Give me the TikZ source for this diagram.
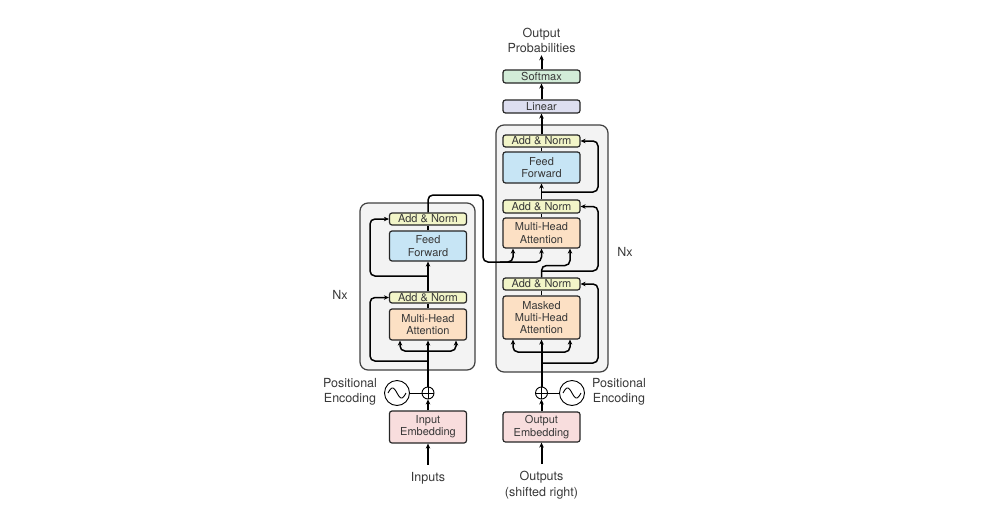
\documentclass[tikz,border=0pt]{standalone}
\usepackage{fontspec}
\setmainfont{TeX Gyre Heros}
\usetikzlibrary{arrows.meta,calc}
\definecolor{cAN}{HTML}{F2F5C8}
\definecolor{cFF}{HTML}{C7E5F5}
\definecolor{cMHA}{HTML}{FCE0C4}
\definecolor{cEmb}{HTML}{F8DDDD}
\definecolor{cSoft}{HTML}{D2ECD8}
\definecolor{cLin}{HTML}{DDDEF0}
\definecolor{cBig}{HTML}{F3F3F3}
\definecolor{cTxt}{HTML}{383838}
\begin{document}
\begin{tikzpicture}[x=1pt,y=-1pt,
 blk/.style={draw=black!85, line width=1.2pt, rounded corners=2.5pt, minimum width=77pt, inner sep=0pt, align=center, font=\fontsize{11}{12.3}\selectfont, text=cTxt},
 bigbox/.style={draw=black!75, line width=1.2pt, fill=cBig, rounded corners=8pt, inner sep=0pt},
 lbl/.style={font=\fontsize{12.5}{15.5}\selectfont, text=cTxt, align=center, inner sep=0pt},
 conn/.style={line width=1.5pt, black, rounded corners=5pt},
 arr/.style={conn, -{Stealth[length=5pt,width=4.5pt]}},
 plusc/.style={circle, draw=black, line width=0.9pt, minimum size=12pt, inner sep=0pt},
 sinec/.style={circle, draw=black, line width=0.9pt, minimum size=25pt, inner sep=0pt},
]
\useasboundingbox (0,0) rectangle (985,522);
% big boxes
\node[bigbox, minimum width=115pt, minimum height=167pt] (enc) at (417.5,286.5) {};
\node[bigbox, minimum width=112pt, minimum height=247pt] (dec) at (552,248.5) {};
% encoder blocks
\node[blk, fill=cAN, minimum height=12pt] (eAN2) at (428,219) {Add \& Norm};
\node[blk, fill=cFF, minimum height=30pt] (eFF) at (428,246) {Feed\\Forward};
\node[blk, fill=cAN, minimum height=11pt] (eAN1) at (428,297.5) {Add \& Norm};
\node[blk, fill=cMHA, minimum height=31pt] (eMHA) at (428,324.5) {Multi-Head\\Attention};
\node[blk, fill=cEmb, minimum height=32pt] (eEmb) at (428,427) {Input\\Embedding};
\node[plusc] (ePlus) at (428,393) {};
\draw[line width=0.9pt] (ePlus.north) -- (ePlus.south) (ePlus.west) -- (ePlus.east);
\node[sinec] (eSin) at (397,393) {};
\draw[line width=0.9pt, shift={(eSin.center)}] plot[domain=-9:9, samples=40, smooth] (\x,{5*sin(20*\x)});
\node[lbl] (ePE) at (350,392) {Positional\\Encoding};
\node[lbl] (eIn) at (428,478) {Inputs};
\node[lbl] (eNx) at (340,295) {Nx};
% decoder blocks
\node[blk, fill=cAN, minimum height=12pt] (dAN3) at (541.5,141) {Add \& Norm};
\node[blk, fill=cFF, minimum height=31pt] (dFF) at (541.5,167.5) {Feed\\Forward};
\node[blk, fill=cAN, minimum height=13pt] (dAN2) at (541.5,206.5) {Add \& Norm};
\node[blk, fill=cMHA, minimum height=30pt] (dMHA) at (541.5,233) {Multi-Head\\Attention};
\node[blk, fill=cAN, minimum height=12pt] (dAN1) at (541.5,284) {Add \& Norm};
\node[blk, fill=cMHA, minimum height=43pt] (dMMHA) at (541.5,317.5) {Masked\\Multi-Head\\Attention};
\node[blk, fill=cEmb, minimum height=30pt] (dEmb) at (541.5,427) {Output\\Embedding};
\node[blk, fill=cLin, minimum height=13pt] (lin) at (541.5,106.5) {Linear};
\node[blk, fill=cSoft, minimum height=13pt] (soft) at (541.5,76.5) {Softmax};
\node[lbl] (prob) at (541.5,40.5) {Output\\Probabilities};
\node[lbl] (dOut) at (541.5,485) {Outputs\\(shifted right)};
\node[plusc] (dPlus) at (541.5,393) {};
\draw[line width=0.9pt] (dPlus.north) -- (dPlus.south) (dPlus.west) -- (dPlus.east);
\node[sinec] (dSin) at (572,393) {};
\draw[line width=0.9pt, shift={(dSin.center)}] plot[domain=-9:9, samples=40, smooth] (\x,{5*sin(20*\x)});
\node[lbl] (dPE) at (619,392) {Positional\\Encoding};
\node[lbl] (dNx) at (625,252) {Nx};
% waypoints
\coordinate (eLx) at (370,0);
\coordinate (eR1) at (428,361);
\coordinate (eB) at (428,351);
\coordinate (eR2) at (428,276);
\coordinate (eTop) at (428,195);
\coordinate (xr) at (483,262);
\coordinate (xm) at (500,262);
\coordinate (dRx) at (598,0);
\coordinate (dB) at (541.5,352);
\coordinate (dR1) at (541.5,363);
\coordinate (dQ) at (541.5,265.5);
\coordinate (dR2) at (541.5,271);
\coordinate (dR3) at (541.5,192);
% encoder connectors
\draw[arr, line width=2pt, shorten <=7pt] (eIn.north) -- (eEmb.south);
\draw[arr, line width=2pt] (eEmb.north) -- (ePlus.south);
\draw[line width=0.9pt] (eSin.east) -- (ePlus.west);
\draw[arr, line width=2pt] (ePlus.north) -- (eMHA.south);
\draw[arr] (eR1) -| (eLx |- eAN1.west) -- (eAN1.west);
\draw[arr] (eB) -| ($(eMHA.south)+(-28,0)$);
\draw[arr] (eB) -| ($(eMHA.south)+(28,0)$);
\draw[conn] (eMHA.north) -- (eAN1.south);
\draw[arr] (eAN1.north) -- (eFF.south);
\draw[arr] (eR2) -| (eLx |- eAN2.west) -- (eAN2.west);
\draw[conn] (eFF.north) -- (eAN2.south);
\draw[arr] (eAN2.north) -- (eTop) -| (xr) -| (dMHA.south);
\draw[arr] (xm) -| ($(dMHA.south)+(-28.5,0)$);
% decoder connectors
\draw[arr, line width=2pt, shorten <=7pt] (dOut.north) -- (dEmb.south);
\draw[arr, line width=2pt] (dEmb.north) -- (dPlus.south);
\draw[line width=0.9pt] (dSin.west) -- (dPlus.east);
\draw[arr, line width=2pt] (dPlus.north) -- (dMMHA.south);
\draw[arr] (dB) -| ($(dMMHA.south)+(-28.5,0)$);
\draw[arr] (dB) -| ($(dMMHA.south)+(28.5,0)$);
\draw[arr] (dR1) -| (dRx |- dAN1.east) -- (dAN1.east);
\draw[conn] (dMMHA.north) -- (dAN1.south);
\draw[arr] (dAN1.north) -- (dQ) -| ($(dMHA.south)+(28.5,0)$);
\draw[arr] (dR2) -| (dRx |- dAN2.east) -- (dAN2.east);
\draw[conn] (dMHA.north) -- (dAN2.south);
\draw[arr] (dAN2.north) -- (dFF.south);
\draw[arr] (dR3) -| (dRx |- dAN3.east) -- (dAN3.east);
\draw[conn] (dFF.north) -- (dAN3.south);
\draw[arr, line width=2pt] (dAN3.north) -- (lin.south);
\draw[arr, line width=2pt] (lin.north) -- (soft.south);
\draw[arr, line width=2pt, shorten >=2pt] (soft.north) -- (prob.south);
\end{tikzpicture}
\end{document}
